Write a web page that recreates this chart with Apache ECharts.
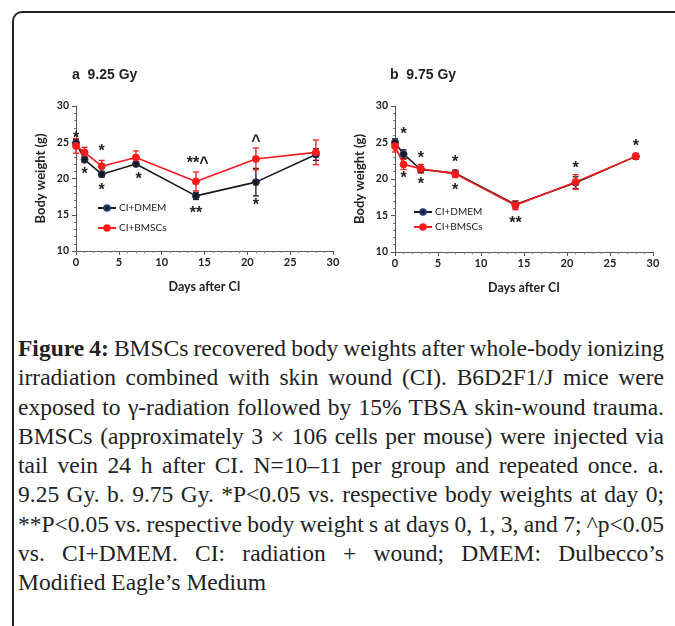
<!DOCTYPE html>
<html>
<head>
<meta charset="utf-8">
<script src="https://cdn.jsdelivr.net/npm/echarts@6/dist/echarts.min.js"></script>
<style>
  html, body { margin: 0; padding: 0; background: #fff; }
  body { width: 675px; height: 626px; overflow: hidden; position: relative; }
  #frame { position: absolute; left: 12px; top: 11px; width: 720px; height: 700px;
           border: 2px solid #222; border-top-left-radius: 10px; box-sizing: border-box; }
  #chart { position: absolute; left: 0; top: 0; width: 675px; height: 312px; }
  #caption { position: absolute; left: 18px; top: 334px; width: 646px;
             font-family: "Liberation Serif", "DejaVu Serif", serif; font-size: 23.5px;
             line-height: 29.25px; color: #222; }
  #caption div { text-align: justify; text-align-last: justify; white-space: nowrap; }
  #caption div.last { text-align-last: left; }
  #caption b { font-weight: bold; }
</style>
</head>
<body>
<div id="frame"></div>
<div id="chart"></div>
<div id="caption"></div>
<script>
// ---------------- data ----------------
const days = [0, 1, 3, 7, 14, 21, 28];
const seriesNames = ['CI+DMEM', 'CI+BMSCs'];
const panelTitles = ['a  9.25 Gy', 'b  9.75 Gy'];

// panel a (9.25 Gy)
const aDMEM     = [24.9, 22.6, 20.6, 22.0, 17.6, 19.5, 23.3];
const aDMEMerr  = [0.5, 0.4, 0.4, 0.3, 0.5, 1.9, 0.8];
const aBMSC     = [24.5, 23.6, 21.7, 22.9, 19.6, 22.7, 23.6];
const aBMSCerr  = [1.0, 0.7, 0.8, 0.9, 1.3, 1.5, 1.7];

// panel b (9.75 Gy)
const bDMEM     = [25.0, 23.4, 21.3, 20.8, 16.5, 19.5, 23.1];
const bDMEMerr  = [0.5, 0.6, 0.4, 0.4, 0.5, 0.8, 0.4];
const bBMSC     = [24.5, 22.0, 21.4, 20.7, 16.4, 19.6, 23.1];
const bBMSCerr  = [0.8, 0.7, 0.6, 0.5, 0.6, 1.0, 0.4];

// significance marks: [day, y position (g), text]
const aMarks = [
  [0, 25.8, '*'], [1, 20.8, '*'], [3, 24.0, '*'], [3, 18.6, '*'],
  [7.3, 20.1, '*'], [14.2, 22.3, '**^'], [14, 15.5, '**'],
  [21, 25.3, '^'], [21, 16.5, '*']
];
const bMarks = [
  [1, 26.3, '*'], [1, 20.3, '*'], [3, 23.1, '*'], [3, 19.5, '*'],
  [7, 22.5, '*'], [7, 18.7, '*'], [14, 14.1, '**'],
  [21, 21.7, '*'], [28, 24.7, '*']
];

const xTicks = { min: 0, max: 30, interval: 5 };
const yTicks = { min: 10, max: 30, interval: 5 };

const captionLines = [
  '<b>Figure 4:</b> BMSCs recovered body weights after whole-body ionizing',
  'irradiation combined with skin wound (CI). B6D2F1/J mice were',
  'exposed to γ-radiation followed by 15% TBSA skin-wound trauma.',
  'BMSCs (approximately 3 × 106 cells per mouse) were injected via',
  'tail vein 24 h after CI. N=10–11 per group and repeated once. a.',
  '9.25 Gy. b. 9.75 Gy. *P&lt;0.05 vs. respective body weights at day 0;',
  '**P&lt;0.05 vs. respective body weight s at days 0, 1, 3, and 7; ^p&lt;0.05',
  'vs. CI+DMEM. CI: radiation + wound; DMEM: Dulbecco’s',
  'Modified Eagle’s Medium'
];
// ---------------------------------------

// caption: one div per line, justified; squeeze word spacing if a line is too long
(function () {
  const cap = document.getElementById('caption');
  const W = 646;
  captionLines.forEach((l, i) => {
    const d = document.createElement('div');
    if (i === captionLines.length - 1) d.className = 'last';
    d.innerHTML = '<span>' + l + '</span>';
    cap.appendChild(d);
    const w = d.firstChild.getBoundingClientRect().width;
    const spaces = (d.textContent.match(/ /g) || []).length;
    if (w > W && spaces) d.style.wordSpacing = (-(w - W) / spaces - 0.2) + 'px';
  });
})();

const AX = 'Lato, "Liberation Sans", sans-serif';
const BLACK = '#1a1a1a';
const RED = '#ff1a1a';

function pairs(ys) { return days.map((d, i) => [d, ys[i]]); }
function errData(ys, es) { return days.map((d, i) => [d, ys[i] - es[i], ys[i] + es[i]]); }

function errSeries(idx, ys, es, color) {
  return {
    type: 'custom', xAxisIndex: idx, yAxisIndex: idx, silent: true, z: 3,
    data: errData(ys, es),
    renderItem: function (params, api) {
      const lo = api.coord([api.value(0), api.value(1)]);
      const hi = api.coord([api.value(0), api.value(2)]);
      const w = 3;
      const st = { stroke: color, lineWidth: 1.3 };
      return { type: 'group', children: [
        { type: 'line', shape: { x1: lo[0], y1: lo[1], x2: hi[0], y2: hi[1] }, style: st },
        { type: 'line', shape: { x1: lo[0] - w, y1: lo[1], x2: lo[0] + w, y2: lo[1] }, style: st },
        { type: 'line', shape: { x1: hi[0] - w, y1: hi[1], x2: hi[0] + w, y2: hi[1] }, style: st }
      ]};
    }
  };
}

function markSeries(idx, marks) {
  return {
    type: 'custom', xAxisIndex: idx, yAxisIndex: idx, silent: true, z: 5,
    data: marks.map(m => [m[0], m[1]]),
    renderItem: function (params, api) {
      const p = api.coord([api.value(0), api.value(1)]);
      return { type: 'text', x: p[0], y: p[1] + 2, style: {
        text: marks[params.dataIndex][2], fill: '#222',
        font: 'bold 16px "Liberation Sans", sans-serif',
        align: 'center', verticalAlign: 'middle' } };
    }
  };
}

function lineSeries(idx, name, ys, color, symbol, border) {
  return {
    type: 'line', name: name, xAxisIndex: idx, yAxisIndex: idx, z: 4,
    data: pairs(ys), symbol: symbol, symbolSize: 7,
    lineStyle: { color: color, width: 1.6 },
    itemStyle: { color: color, borderColor: border, borderWidth: 1 }
  };
}

function xAxis(idx) {
  return {
    type: 'value', gridIndex: idx, min: xTicks.min, max: xTicks.max, interval: xTicks.interval,
    name: 'Days after CI', nameLocation: 'middle', nameGap: 29,
    nameTextStyle: { fontFamily: AX, fontWeight: 'bold', fontSize: 12.5, color: '#222' },
    axisLine: { lineStyle: { color: '#555', width: 1 } },
    axisTick: { show: true, length: 4, lineStyle: { color: '#555' } },
    minorTick: { show: true, splitNumber: 5, length: 2, lineStyle: { color: '#777' } },
    splitLine: { show: false },
    axisLabel: { fontFamily: AX, fontWeight: 'bold', fontSize: 11, color: '#222', margin: 6 }
  };
}
function yAxis(idx) {
  return {
    type: 'value', gridIndex: idx, min: yTicks.min, max: yTicks.max, interval: yTicks.interval,
    name: 'Body weight (g)', nameLocation: 'middle', nameGap: 29,
    nameTextStyle: { fontFamily: AX, fontWeight: 'bold', fontSize: 13, color: '#222' },
    axisLine: { show: true, lineStyle: { color: '#555', width: 1 } },
    axisTick: { show: true, length: 4, lineStyle: { color: '#555' } },
    minorTick: { show: true, splitNumber: 5, length: 2, lineStyle: { color: '#777' } },
    splitLine: { show: false },
    axisLabel: { fontFamily: AX, fontWeight: 'bold', fontSize: 10.5, color: '#222', margin: 7 }
  };
}
function legend(left, top, gap) {
  return {
    orient: 'vertical', left: left, top: top, itemGap: gap, itemWidth: 18, itemHeight: 7,
    data: seriesNames, selectedMode: false, padding: 0,
    textStyle: { fontFamily: AX, fontSize: 10, color: '#222', padding: [0, 0, 0, -2] }
  };
}

const chart = echarts.init(document.getElementById('chart'), null, { renderer: 'canvas' });
chart.setOption({
  animation: false,
  backgroundColor: 'transparent',
  title: [
    { text: panelTitles[0], left: 72, top: 68, padding: 0,
      textStyle: { fontFamily: '"Liberation Sans", sans-serif', fontWeight: 'bold', fontSize: 14, color: '#222' } },
    { text: panelTitles[1], left: 390, top: 68, padding: 0,
      textStyle: { fontFamily: '"Liberation Sans", sans-serif', fontWeight: 'bold', fontSize: 14, color: '#222' } }
  ],
  legend: [ legend(97, 203, 10), legend(413, 207, 5) ],
  grid: [
    { left: 76, top: 106, width: 257, height: 145 },
    { left: 395, top: 106, width: 258, height: 146 }
  ],
  xAxis: [xAxis(0), xAxis(1)],
  yAxis: [yAxis(0), yAxis(1)],
  series: [
    errSeries(0, aDMEM, aDMEMerr, BLACK),
    lineSeries(0, seriesNames[0], aDMEM, BLACK, 'circle', '#1f3b73'),
    errSeries(0, aBMSC, aBMSCerr, RED),
    lineSeries(0, seriesNames[1], aBMSC, RED, 'circle', RED),
    markSeries(0, aMarks),
    errSeries(1, bDMEM, bDMEMerr, BLACK),
    lineSeries(1, seriesNames[0], bDMEM, BLACK, 'circle', '#1f3b73'),
    errSeries(1, bBMSC, bBMSCerr, RED),
    lineSeries(1, seriesNames[1], bBMSC, RED, 'circle', RED),
    markSeries(1, bMarks)
  ]
});
</script>
</body>
</html>
